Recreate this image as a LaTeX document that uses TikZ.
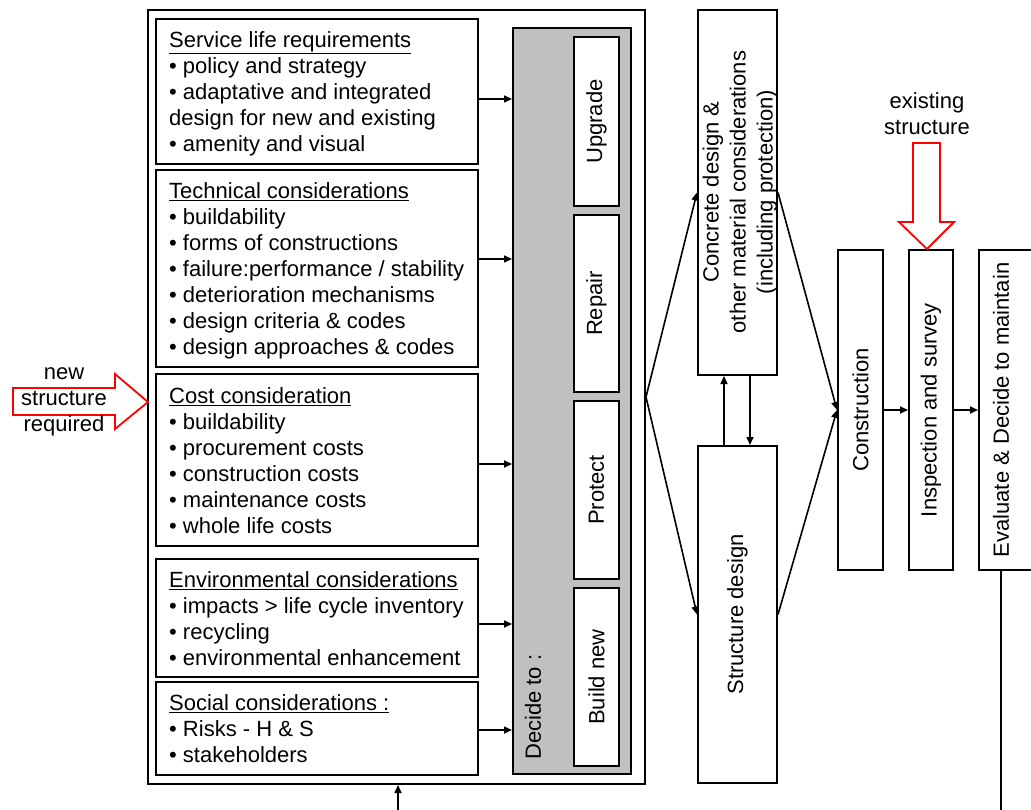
\documentclass[tikz,border=0pt]{standalone}
\usepackage{fontspec}
\setmainfont{Liberation Sans}
\usetikzlibrary{arrows.meta}
\definecolor{colGray}{RGB}{192,192,192}
\definecolor{colRed}{RGB}{255,0,0}
\begin{document}
\begin{tikzpicture}[x=1pt,y=-1pt,
  frame/.style={draw=black, line width=2pt, fill=white, inner sep=0pt},
  txt/.style={anchor=north west, inner sep=0pt, align=left, font=\fontsize{22}{26}\selectfont},
  vtxt/.style={rotate=90, inner sep=0pt, align=center, font=\fontsize{22}{27}\selectfont},
  lbl/.style={inner sep=0pt, align=center, font=\fontsize{22}{26}\selectfont},
  arr/.style={line width=1.6pt, -{Triangle[length=8pt,width=7pt]}},
  plain/.style={line width=1.8pt},
  blockarrow/.style={draw=colRed, line width=1.8pt, fill=white, line join=miter}]
\useasboundingbox (0,0) rectangle (1031,809);
\clip (0,0) rectangle (1031,809);

% outer frame
\node[frame, minimum width=497pt, minimum height=774pt] (outer) at (396.5,397) {};

% text boxes
\node[frame, minimum width=322pt, minimum height=145pt] (b1) at (317,91.5) {};
\node[frame, minimum width=322pt, minimum height=197pt] (b2) at (317,268.5) {};
\node[frame, minimum width=322pt, minimum height=172pt] (b3) at (317,460) {};
\node[frame, minimum width=322pt, minimum height=118pt] (b4) at (317,618) {};
\node[frame, minimum width=322pt, minimum height=93pt] (b5) at (317,728.5) {};

\node[txt] (t1) at (169,31) {\underline{Service life requirements}\\\textbullet{} policy and strategy\\\textbullet{} adaptative and integrated\\design for new and existing\\\textbullet{} amenity and visual};
\node[txt] (t2) at (169,182) {\underline{Technical considerations}\\\textbullet{} buildability\\\textbullet{} forms of constructions\\\textbullet{} failure:performance / stability\\\textbullet{} deterioration mechanisms\\\textbullet{} design criteria \& codes\\\textbullet{} design approaches \& codes};
\node[txt] (t3) at (169,387) {\underline{Cost consideration}\\\textbullet{} buildability\\\textbullet{} procurement costs\\\textbullet{} construction costs\\\textbullet{} maintenance costs\\\textbullet{} whole life costs};
\node[txt] (t4) at (169,571) {\underline{Environmental considerations}\\\textbullet{} impacts > life cycle inventory\\\textbullet{} recycling\\\textbullet{} environmental enhancement};
\node[txt] (t5) at (169,694) {\underline{Social considerations :}\\\textbullet{} Risks - H \& S\\\textbullet{} stakeholders};

% gray decision column
\node[frame, fill=colGray, minimum width=118pt, minimum height=746pt] (gray) at (572,401) {};
\node[frame, minimum width=45pt, minimum height=169pt] (upgrade) at (596.5,121.5) {};
\node[frame, minimum width=45pt, minimum height=177pt] (repair) at (596.5,303.5) {};
\node[frame, minimum width=45pt, minimum height=178pt] (protect) at (596.5,490) {};
\node[frame, minimum width=45pt, minimum height=178pt] (buildnew) at (596.5,677) {};
\node[vtxt] at (upgrade.center) {Upgrade};
\node[vtxt] at (repair.center) {Repair};
\node[vtxt] at (protect.center) {Protect};
\node[vtxt] at (buildnew.center) {Build new};
\node[vtxt, anchor=west] (decide) at (533,760) {Decide to :};

% arrows from text boxes
\draw[arr] (b1.east |- 0,99) -- (gray.west |- 0,99);
\draw[arr] (b2.east |- 0,259) -- (gray.west |- 0,259);
\draw[arr] (b3.east |- 0,464) -- (gray.west |- 0,464);
\draw[arr] (b4.east |- 0,624) -- (gray.west |- 0,624);
\draw[arr] (b5.east |- 0,730) -- (gray.west |- 0,730);

% design boxes
\node[frame, minimum width=79pt, minimum height=365pt] (concrete) at (737.5,192.5) {};
\node[vtxt] at (740,192) {Concrete design \&\\other material considerations\\(including protection)};
\node[frame, minimum width=79pt, minimum height=337pt] (structure) at (737.5,614.5) {};
\node[vtxt] at (structure.center) {Structure design};

\draw[arr] (structure.north -| 724,0) -- (concrete.south -| 724,0);
\draw[arr] (concrete.south -| 750,0) -- (structure.north -| 750,0);

% process boxes
\node[frame, minimum width=45pt, minimum height=320pt] (construction) at (860.5,410) {};
\node[vtxt] at (construction.center) {Construction};
\node[frame, minimum width=44pt, minimum height=320pt] (inspection) at (931,410) {};
\node[vtxt] at (inspection.center) {Inspection and survey};
\node[frame, minimum width=61pt, minimum height=320pt] (evaluate) at (1009.5,410) {};
\node[vtxt] at (1001,410) {Evaluate \& Decide to maintain};

% fan connectors
\draw[arr] (outer.east) -- (concrete.west);
\draw[arr] (outer.east) -- (structure.west);
\draw[arr] (concrete.east) -- (construction.west);
\draw[arr] (structure.east) -- (construction.west);
\draw[arr] (construction.east) -- (inspection.west);
\draw[arr] (inspection.east) -- (evaluate.west);

% bottom loop ends
\coordinate (evalEnd) at (1001,812);
\draw[plain] (evaluate.south -| evalEnd) -- (evalEnd);
\coordinate (loopIn) at (398,812);
\draw[arr] (loopIn) -- (loopIn |- outer.south);

% red block arrows
\draw[blockarrow] (13,388) -- (115,388) -- (115,374) -- (148,402) -- (115,429) -- (115,415) -- (13,415) -- cycle;
\node[lbl] (newlbl) at (64,402) {new\\structure\\required};
\draw[blockarrow] (913,143) -- (940,143) -- (940,222) -- (954,222) -- (927,249) -- (899,222) -- (913,222) -- cycle;
\node[lbl] (exlbl) at (927,113.5) {existing\\structure};
\end{tikzpicture}
\end{document}
